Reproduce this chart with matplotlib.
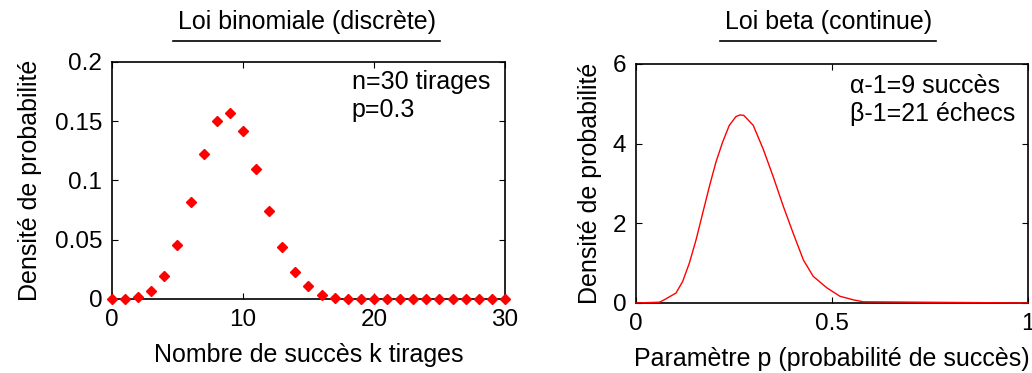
import matplotlib
matplotlib.use("Agg")
import matplotlib.pyplot as plt
from matplotlib.lines import Line2D

plt.rcParams["font.family"] = ["Liberation Sans", "DejaVu Sans"]

# binomial pmf (n=30, p=0.3)
k_vals = list(range(31))
binom_vals = [0.0, 0.0, 0.002, 0.0065, 0.0196, 0.0457, 0.082, 0.122, 0.150, 0.157,
              0.142, 0.110, 0.074, 0.044, 0.023, 0.011, 0.0036, 0.001, 0.0, 0.0,
              0.0, 0.0, 0.0, 0.0, 0.0, 0.0, 0.0, 0.0, 0.0, 0.0, 0.0]

# beta density
p_vals = [0.0, 0.06, 0.072, 0.102, 0.119, 0.136, 0.153, 0.170, 0.187, 0.204,
          0.221, 0.238, 0.255, 0.265, 0.275, 0.299, 0.325, 0.350, 0.376, 0.401,
          0.427, 0.452, 0.487, 0.520, 0.554, 0.58, 1.0]
beta_vals = [0.0, 0.02, 0.08, 0.25, 0.54, 1.0, 1.58, 2.25, 2.92, 3.54,
             4.04, 4.46, 4.68, 4.72, 4.71, 4.46, 3.85, 3.17, 2.42, 1.75,
             1.08, 0.67, 0.38, 0.17, 0.08, 0.03, 0.0]

FS = 18

fig = plt.figure(figsize=(10.32, 3.73), dpi=100)
ax1 = fig.add_axes([0.1085, 0.1984, 0.3808, 0.6354])
ax2 = fig.add_axes([0.6163, 0.1877, 0.3798, 0.6408])

ax1.plot(k_vals, binom_vals, linestyle="none", marker="D", markersize=4.6,
         color="red", clip_on=False, zorder=5)
ax1.set_xlim(0, 30)
ax1.set_ylim(0, 0.2)
ax1.set_xticks([0, 10, 20, 30])
ax1.set_yticks([0, 0.05, 0.1, 0.15, 0.2])
ax1.set_yticklabels(["0", "0.05", "0.1", "0.15", "0.2"])
ax1.set_xlabel("Nombre de succès k tirages", fontsize=FS, labelpad=9)
ax1.set_ylabel("Densité de probabilité", fontsize=FS, labelpad=9)
ax1.text(18.3, 0.193, "n=30 tirages\np=0.3", fontsize=FS, va="top",
         linespacing=1.2)

ax2.plot(p_vals, beta_vals, color="red", linewidth=1.0, clip_on=False, zorder=5)
ax2.set_xlim(0, 1)
ax2.set_ylim(0, 6)
ax2.set_xticks([0, 0.5, 1])
ax2.set_xticklabels(["0", "0.5", "1"])
ax2.set_yticks([0, 2, 4, 6])
ax2.set_xlabel("Paramètre p (probabilité de succès)", fontsize=FS, labelpad=9)
ax2.set_ylabel("Densité de probabilité", fontsize=FS, labelpad=8)
ax2.text(0.545, 5.75, "α-1=9 succès\nβ-1=21 échecs", fontsize=FS, va="top",
         linespacing=1.2)

for ax in (ax1, ax2):
    ax.tick_params(direction="in", length=4, labelsize=FS - 0.5, top=True,
                   right=True, pad=7)
    for s in ax.spines.values():
        s.set_linewidth(1.2)

# underlined titles
fig.text(0.297, 0.941, "Loi binomiale (discrète)", fontsize=FS, ha="center",
         va="center")
fig.lines.append(Line2D([0.168, 0.426], [0.89, 0.89], color="black",
                        linewidth=1.2, transform=fig.transFigure))
fig.text(0.8025, 0.941, "Loi beta (continue)", fontsize=FS, ha="center",
         va="center")
fig.lines.append(Line2D([0.698, 0.907], [0.89, 0.89], color="black",
                        linewidth=1.2, transform=fig.transFigure))

fig.savefig("out.png", dpi=100)
